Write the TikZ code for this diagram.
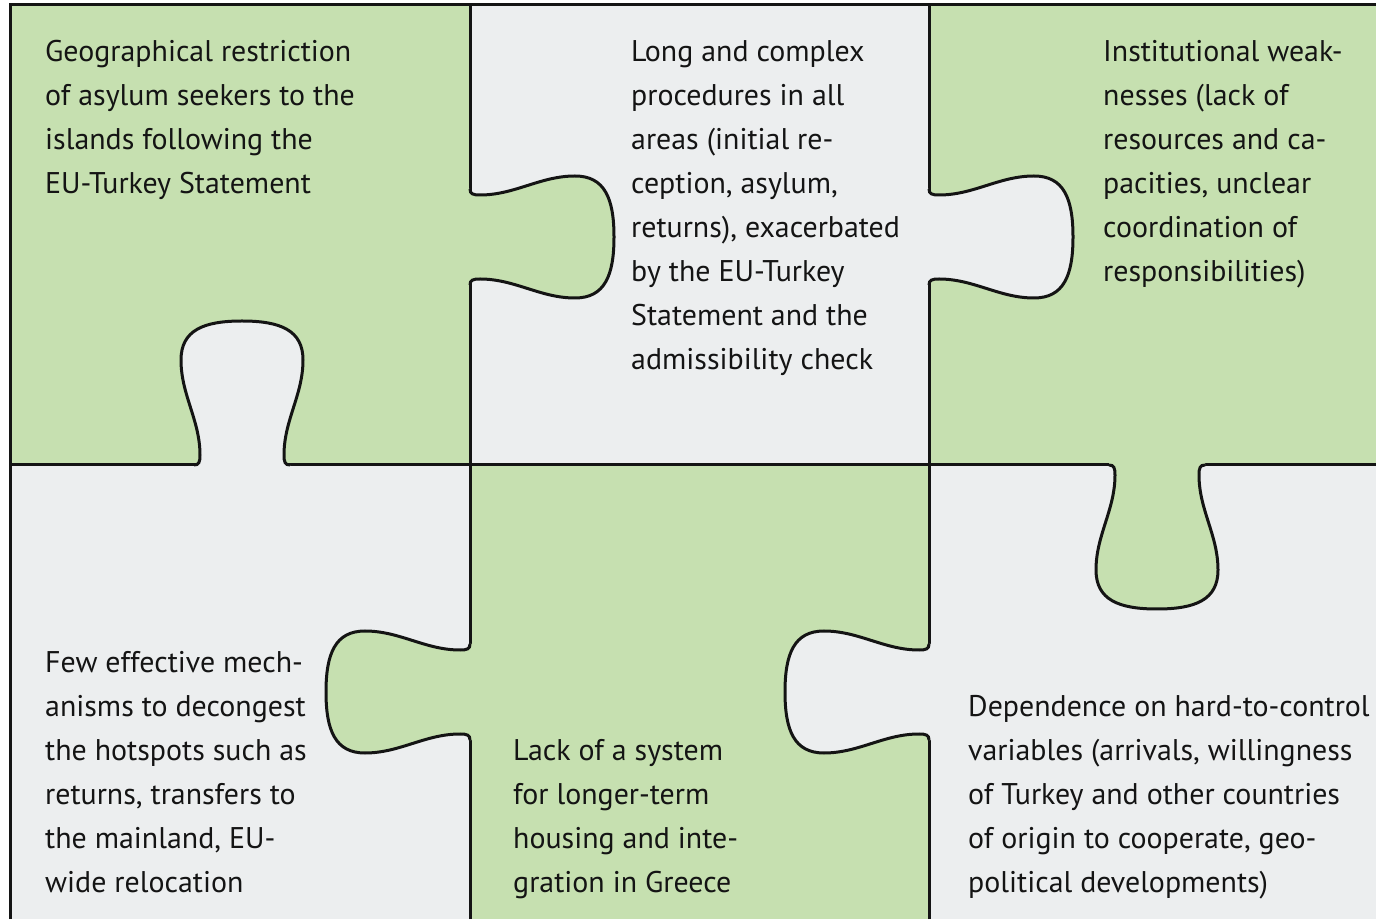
\documentclass[tikz,border=0pt]{standalone}
\usepackage{fontspec}
\setmainfont{PT Sans}
\definecolor{pgreen}{RGB}{198,224,176}
\definecolor{pgray}{RGB}{236,238,239}
\definecolor{ink}{RGB}{20,20,20}
\tikzset{
  puzzletab/.pic={
    \path[pic actions] (-48,-3) -- (-48,0) .. controls (-43,0) and (-42,3) .. (-42,10)
      .. controls (-42,45) and (-61,70) .. (-61,105)
      .. controls (-61,135) and (-38,144) .. (0,144)
      .. controls (38,144) and (61,135) .. (61,105)
      .. controls (61,70) and (42,45) .. (42,10)
      .. controls (42,3) and (43,0) .. (48,0) -- (48,-3) -- cycle;
    \draw[line width=3pt, ink] (-48,0) .. controls (-43,0) and (-42,3) .. (-42,10)
      .. controls (-42,45) and (-61,70) .. (-61,105)
      .. controls (-61,135) and (-38,144) .. (0,144)
      .. controls (38,144) and (61,135) .. (61,105)
      .. controls (61,70) and (42,45) .. (42,10)
      .. controls (42,3) and (43,0) .. (48,0);
  }
}
\begin{document}
\begin{tikzpicture}[x=1pt,y=1pt,
  txt/.style={anchor=base west, inner sep=0pt, align=left,
    font=\fontsize{29.9}{44}\selectfont, text=ink},
  gridline/.style={line width=3pt, draw=ink}]
\useasboundingbox (0,0) rectangle (1376,919);
% cells
\fill[pgreen] (10,454) rectangle (470,914);
\fill[pgray]  (470,454) rectangle (929,914);
\fill[pgreen] (929,454) rectangle (1376,914);
\fill[pgray]  (10,0) rectangle (470,454);
\fill[pgreen] (470,0) rectangle (929,454);
\fill[pgray]  (929,0) rectangle (1376,454);
% grid
\draw[gridline] (10,0) -- (10,914) -- (1376,914);
\draw[gridline] (470,0) -- (470,914);
\draw[gridline] (929,0) -- (929,914);
\draw[gridline] (10,454) -- (1376,454);
% tabs
\pic[fill=pgray] (tab1) at (242,454) {puzzletab};
\pic[fill=pgreen, rotate=-90] (tab2) at (470,682) {puzzletab};
\pic[fill=pgray, rotate=-90] (tab3) at (929,682) {puzzletab};
\pic[fill=pgreen, rotate=180] (tab4) at (1157,454) {puzzletab};
\pic[fill=pgreen, rotate=90] (tab5) at (470,227) {puzzletab};
\pic[fill=pgray, rotate=90] (tab6) at (929,227) {puzzletab};
% texts (base anchor = baseline of the last line)
\node[txt] (t1) at (45,725) {Geographical restriction\\of asylum seekers to the\\islands following the\\EU-Turkey Statement};
\node[txt] (t2) at (631,549) {Long and complex\\procedures in all\\areas (initial re-\\ception, asylum,\\returns), exacerbated\\by the EU-Turkey\\Statement and the\\admissibility check};
\node[txt] (t3) at (1103,637) {Institutional weak-\\nesses (lack of\\resources and ca-\\pacities, unclear\\coordination of\\responsibilities)};
\node[txt] (t4) at (45,27) {Few effective mech-\\anisms to decongest\\the hotspots such as\\returns, transfers to\\the mainland, EU-\\wide relocation};
\node[txt] (t5) at (513,27) {Lack of a system\\for longer-term\\housing and inte-\\gration in Greece};
\node[txt] (t6) at (968,27) {Dependence on hard-to-control\\variables (arrivals, willingness\\of Turkey and other countries\\of origin to cooperate, geo-\\political developments)};
\end{tikzpicture}
\end{document}
